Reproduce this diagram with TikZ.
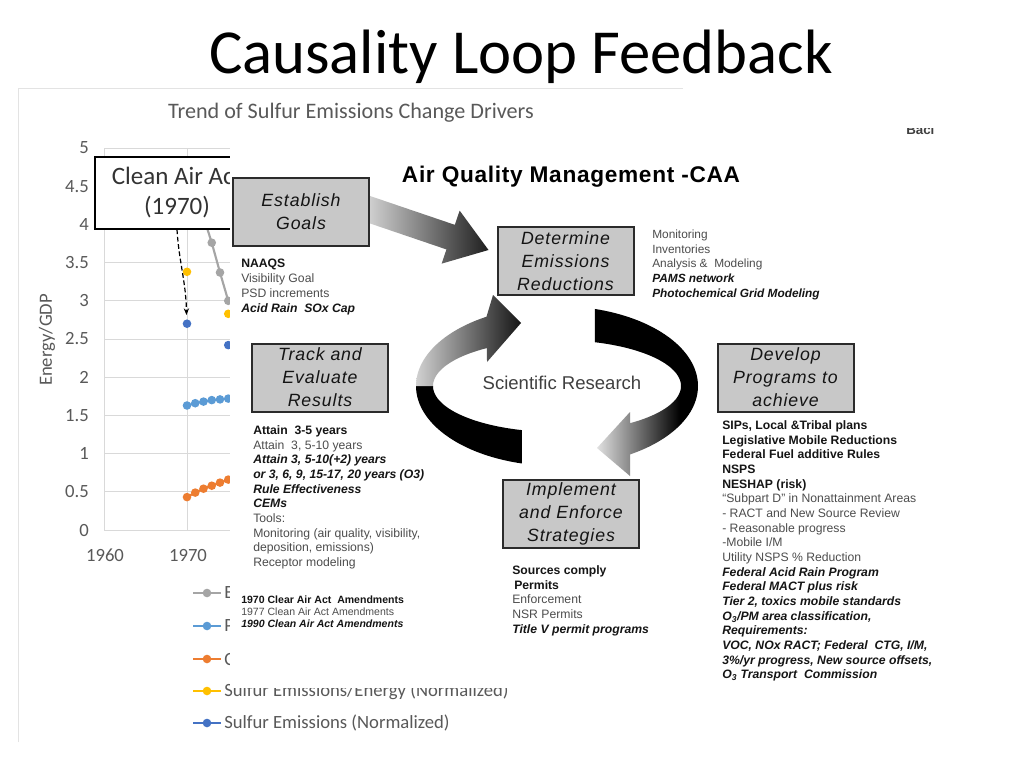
\documentclass[tikz,border=0pt]{standalone}
\usepackage{fontspec}
\setmainfont{Liberation Sans}
\newfontfamily\calfont{Carlito}
\newfontfamily\arfont{Liberation Sans}
\usetikzlibrary{arrows.meta,calc}
\definecolor{axgray}{HTML}{595959}
\definecolor{gridc}{HTML}{D9D9D9}
\definecolor{framec}{HTML}{E3E3E3}
\definecolor{sgray}{HTML}{A5A5A5}
\definecolor{sblue}{HTML}{5B9BD5}
\definecolor{sorange}{HTML}{ED7D31}
\definecolor{syellow}{HTML}{FFC000}
\definecolor{sdblue}{HTML}{4472C4}
\definecolor{boxfill}{HTML}{C8C8C8}
\definecolor{boxline}{HTML}{2B2B2B}
\definecolor{txtreg}{HTML}{4D4D4D}
\definecolor{txtbold}{HTML}{151515}
\newcommand{\txB}[1]{{\bfseries\color{txtbold}#1}}
\newcommand{\txR}[1]{{\color{txtreg}#1}}
\newcommand{\txBI}[1]{{\bfseries\itshape\color{txtbold}#1}}
\begin{document}
\begin{tikzpicture}[x=0.75pt,y=-0.75pt,
  chart/.style={font=\calfont\fontsize{14}{16}\selectfont, text=axgray, inner sep=0pt},
  stagebox/.style={draw=boxline, fill=boxfill, line width=1.5pt, minimum width=102pt, minimum height=51pt, align=center, inner sep=0pt, text=black!92, font=\arfont\itshape\addfontfeatures{LetterSpace=5}\fontsize{13.3}{17.25}\selectfont},
  listtxt/.style={anchor=north west, align=left, inner sep=0pt, font=\arfont\fontsize{9.15}{11}\selectfont},
  gridline/.style={draw=gridc, line width=0.75pt},
  serline/.style={line width=1.6pt},
  legline/.style={line width=1.6pt}
]
\useasboundingbox (0,0) rectangle (1024,768);
\fill[white] (0,0) rectangle (1024,768);

% slide title
\node[font=\calfont\fontsize{47}{56}\selectfont, text=black, inner sep=0pt] (title) at (521,57) {Causality Loop Feedback};

% ---------------- chart (background picture) ----------------
\draw[framec, line width=0.75pt] (18,742) -- (18,88) -- (683,88);
\node[chart, font=\calfont\fontsize{16.6}{19}\selectfont] (ctitle) at (351,113) {Trend of Sulfur Emissions Change Drivers};
\foreach \v in {0,0.5,...,5.01} {
  \draw[gridline] (104,{530-76.4*\v}) -- (235,{530-76.4*\v});
}
\draw[gridline] (104,148) -- (104,530);
\draw[gridline] (187,148) -- (187,530);
\foreach \v/\lab in {0/0,0.5/0.5,1/1,1.5/1.5,2/2,2.5/2.5,3/3,3.5/3.5,4/4,4.5/4.5,5/5} {
  \node[chart, anchor=east] at (89,{530-76.4*\v}) {\lab};
}
\node[chart] (x1960) at (105,555) {1960};
\node[chart] (x1970) at (188,555) {1970};
\node[chart, rotate=90] (ylab) at (47,340) {Energy/GDP};

% series
\draw[sgray, serline] (187,170.9) -- (195.25,193.8) -- (203.5,216.8) -- (211.75,242.7) -- (220,272.5) -- (228.25,300.8);
\foreach \px/\py in {187/170.9,195.25/193.8,203.5/216.8,211.75/242.7,220/272.5,228.25/300.8} {\fill[sgray] (\px,\py) circle[radius=4.3];}
\draw[sblue, serline] (187,405.5) -- (195.25,403.2) -- (203.5,401.6) -- (211.75,400.1) -- (220,399.4) -- (228.25,398.6);
\foreach \px/\py in {187/405.5,195.25/403.2,203.5/401.6,211.75/400.1,220/399.4,228.25/398.6} {\fill[sblue] (\px,\py) circle[radius=4.3];}
\draw[sorange, serline] (187,497.1) -- (195.25,492.6) -- (203.5,488.7) -- (211.75,485.7) -- (220,482.6) -- (228.25,479.6);
\foreach \px/\py in {187/497.1,195.25/492.6,203.5/488.7,211.75/485.7,220/482.6,228.25/479.6} {\fill[sorange] (\px,\py) circle[radius=4.3];}
\fill[syellow] (187,271.8) circle[radius=4.3];
\fill[syellow] (228.25,313.8) circle[radius=4.3];
\fill[sdblue] (187,323.7) circle[radius=4.3];
\fill[sdblue] (228.25,345.1) circle[radius=4.3];

% Clean Air Act callout
\node[draw=black, line width=0.8pt, fill=white, minimum width=123pt, minimum height=54pt, align=center, inner sep=0pt,
      font=\calfont\fontsize{18.75}{22.5}\selectfont, text=black!80] (caa) at (177,193) {Clean Air Act\\(1970)};
\coordinate (cdt) at (186.5,315);
\draw[black, line width=0.9pt, dash pattern=on 3.5pt off 2pt, -{Stealth[length=5pt,width=4pt]}]
  (caa.south) .. controls (179,262) and (186,282) .. (cdt);

% legend
\draw[sgray, legline] (193,593) -- (221,593); \fill[sgray] (207,593) circle[radius=4.3];
\node[chart, anchor=west] (leg1) at (224,593) {E};
\draw[sblue, legline] (193,626) -- (221,626); \fill[sblue] (207,626) circle[radius=4.3];
\node[chart, anchor=west] (leg2) at (224,626) {P};
\draw[sorange, legline] (193,659) -- (221,659); \fill[sorange] (207,659) circle[radius=4.3];
\node[chart, anchor=west] (leg3) at (224,659) {C};
\draw[syellow, legline] (193,691) -- (221,691); \fill[syellow] (207,691) circle[radius=4.3];
\node[chart, anchor=west] (leg4) at (224,691) {Sulfur Emissions/Energy (Normalized)};
\draw[sdblue, legline] (193,723) -- (221,723); \fill[sdblue] (207,723) circle[radius=4.3];
\node[chart, anchor=west] (leg5) at (224,723) {Sulfur Emissions (Normalized)};

% ---------------- overlay picture ----------------
\fill[white] (230,125) rectangle (958,688);
\begin{scope}
  \clip (895,128.5) rectangle (960,140);
  \node[anchor=base west, inner sep=0pt, font=\arfont\bfseries\fontsize{10}{12}\selectfont, text=black!75] (baci) at (906,134) {Baci};
\end{scope}

\node[font=\arfont\bfseries\addfontfeatures{LetterSpace=3}\fontsize{17}{20}\selectfont, text=black, inner sep=0pt] (aqm) at (571,177) {Air Quality Management -CAA};

% loop ribbon
\fill[black] plot[domain=180:104.4, samples=40, variable=\t] ({557+141*cos(\t)},{386+80*sin(\t)})
  -- plot[domain=106.4:180, samples=40, variable=\t] ({557+124*cos(\t)},{386+46*sin(\t)}) -- cycle;
\shade[left color=black!18, middle color=black!38, right color=black!92]
  plot[domain=180:240, samples=30, variable=\t] ({557+141*cos(\t)},{386+80*sin(\t)})
  -- (493,295) -- (521,323) -- (487,362)
  -- plot[domain=235.6:180, samples=30, variable=\t] ({557+124*cos(\t)},{386+46*sin(\t)}) -- cycle;
\fill[black] plot[domain=-74.4:29.3, samples=50, variable=\t] ({557+141*cos(\t)},{386+80*sin(\t)})
  -- plot[domain=7.3:-72.2, samples=50, variable=\t] ({557+124*cos(\t)},{386+46*sin(\t)}) -- cycle;
\shade[left color=black!12, middle color=black!32, right color=black]
  plot[domain=29.3:58.8, samples=30, variable=\t] ({557+141*cos(\t)},{386+80*sin(\t)})
  -- (630,476) -- (597,448) -- (630,412)
  -- plot[domain=53.9:7.3, samples=30, variable=\t] ({557+124*cos(\t)},{386+46*sin(\t)}) -- cycle;
\node[font=\arfont\fontsize{13.9}{16}\selectfont, text=black!75, inner sep=0pt] (sci) at (562,383) {Scientific Research};

% stage boxes
\node[stagebox] (det) at (565.5,261) {Determine\\Emissions\\Reductions};
\node[stagebox] (trk) at (320,377.5) {Track and\\Evaluate\\Results};
\node[stagebox] (dev) at (785.5,377.5) {Develop\\Programs to\\achieve};
\node[stagebox] (imp) at (571,513.5) {Implement\\and Enforce\\Strategies};

% big arrow Establish -> Determine
\coordinate (aT) at ($(det.west)+(-8,-11)$);
\coordinate (aS) at (362,207);
\coordinate (aB) at ($(aT)!30pt!(aS)$);
\shade[left color=black!12, right color=black!88]
  ($(aS)!9.75pt!90:(aT)$) -- ($(aB)!9.75pt!90:(aT)$) -- ($(aB)!21pt!90:(aT)$) -- (aT)
  -- ($(aB)!21pt!-90:(aT)$) -- ($(aB)!9.75pt!-90:(aT)$) -- ($(aS)!9.75pt!-90:(aT)$) -- cycle;
\node[stagebox] (est) at (301,212) {Establish\\Goals};

% text lists
\node[listtxt, font=\arfont\fontsize{9.15}{11.25}\selectfont] (estl) at (241,258.5) {\txB{NAAQS}\\\txR{Visibility Goal}\\\txR{PSD increments}\\\txBI{Acid Rain\ \ SOx Cap}};
\node[listtxt, font=\arfont\fontsize{8.9}{11.06}\selectfont] (detl) at (652,229.5) {\txR{Monitoring}\\\txR{Inventories}\\\txR{Analysis \&\ \ Modeling}\\\txBI{PAMS network}\\\txBI{Photochemical Grid Modeling}};
\node[listtxt] (trkl) at (253,425.5) {\txB{Attain\ \ 3-5 years}\\\txR{Attain\ \ 3, 5-10 years}\\\txBI{Attain 3, 5-10(+2) years}\\\txBI{or 3, 6, 9, 15-17, 20 years (O3)}\\\txBI{Rule Effectiveness}\\\txBI{CEMs}\\\txR{Tools:}\\\txR{Monitoring (air quality, visibility,}\\\txR{deposition, emissions)}\\\txR{Receptor modeling}};
\node[listtxt, font=\arfont\fontsize{7.9}{9}\selectfont] (amdl) at (241,596) {\txB{1970 Clear Air Act\ \ Amendments}\\\txR{1977 Clean Air Act Amendments}\\\txBI{1990 Clean Air Act Amendments}};
\node[listtxt] (impl) at (512,565.5) {\txB{Sources comply}\\\txB{\hspace{1.5pt}Permits}\\\txR{Enforcement}\\\txR{NSR Permits}\\\txBI{Title V permit programs}};
\node[listtxt] (devl) at (722,420.5) {\txB{SIPs, Local \&Tribal plans}\\\txB{Legislative Mobile Reductions}\\\txB{Federal Fuel additive Rules}\\\txB{NSPS}\\\txB{NESHAP (risk)}\\\txR{“Subpart D” in Nonattainment Areas}\\\txR{- RACT and New Source Review}\\\txR{- Reasonable progress}\\\txR{-Mobile I/M}\\\txR{Utility NSPS \% Reduction}\\\txBI{Federal Acid Rain Program}\\\txBI{Federal MACT plus risk}\\\txBI{Tier 2, toxics mobile standards}\\\txBI{O\textsubscript{3}/PM area classification,}\\\txBI{Requirements:}\\\txBI{VOC, NOx RACT; Federal\ \ CTG, I/M,}\\\txBI{3\%/yr progress, New source offsets,}\\\txBI{O\textsubscript{3} Transport\ \ Commission}};
\end{tikzpicture}
\end{document}
